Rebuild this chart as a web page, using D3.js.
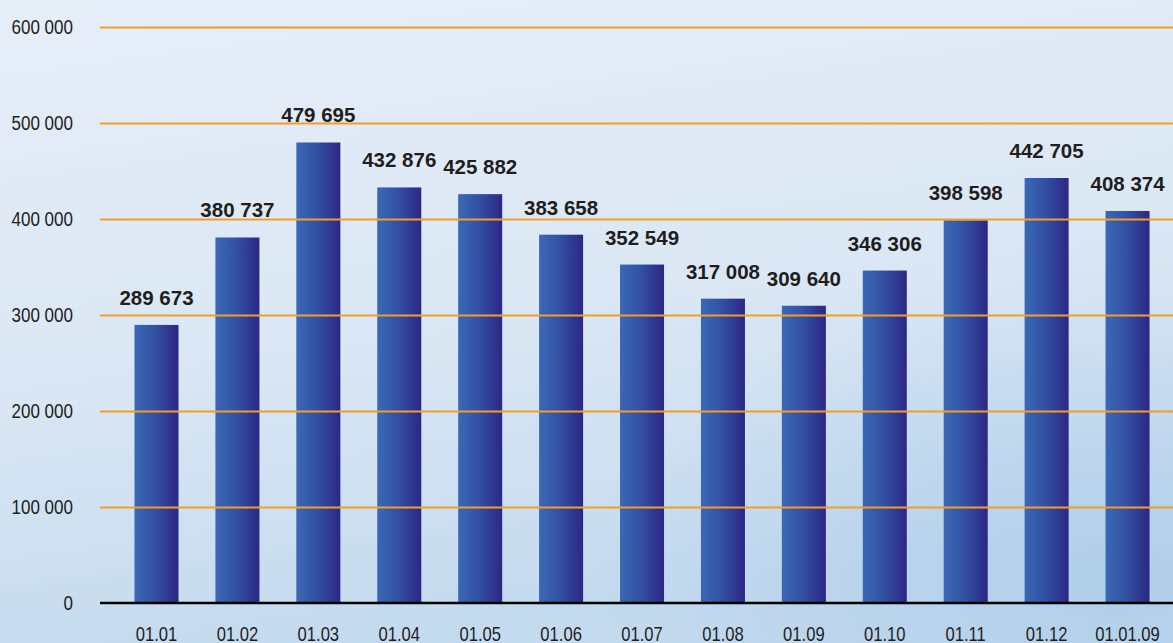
<!DOCTYPE html>
<html>
<head>
<meta charset="utf-8">
<script src="https://cdn.jsdelivr.net/npm/d3@7"></script>
<style>
  html, body { margin: 0; padding: 0; overflow: hidden; }
  svg { display: block; }
</style>
</head>
<body>
<svg id="chart" width="1173" height="643"></svg>
<script>
const categories = ["01.01", "01.02", "01.03", "01.04", "01.05", "01.06", "01.07", "01.08", "01.09", "01.10", "01.11", "01.12", "01.01.09"];
const values = [289673, 380737, 479695, 432876, 425882, 383658, 352549, 317008, 309640, 346306, 398598, 442705, 408374];
const yTicks = [0, 100000, 200000, 300000, 400000, 500000, 600000];

const W = 1173, H = 643;
const svg = d3.select("#chart");
const defs = svg.append("defs");

const bg = defs.append("linearGradient").attr("id", "bg").attr("x1", 0).attr("y1", 0).attr("x2", 0.25).attr("y2", 1);
bg.append("stop").attr("offset", "0%").attr("stop-color", "#e6eef8");
bg.append("stop").attr("offset", "55%").attr("stop-color", "#dbe7f4");
bg.append("stop").attr("offset", "100%").attr("stop-color", "#c4daee");

const bgR = defs.append("radialGradient").attr("id", "bgR").attr("cx", 0.95).attr("cy", 0.9).attr("r", 0.45);
bgR.append("stop").attr("offset", "0%").attr("stop-color", "#9fc4e6").attr("stop-opacity", 0.5);
bgR.append("stop").attr("offset", "100%").attr("stop-color", "#9fc4e6").attr("stop-opacity", 0);

const barG = defs.append("linearGradient").attr("id", "barG").attr("x1", 0).attr("y1", 0).attr("x2", 1).attr("y2", 0);
barG.append("stop").attr("offset", "0%").attr("stop-color", "#3b68b5");
barG.append("stop").attr("offset", "45%").attr("stop-color", "#3352a4");
barG.append("stop").attr("offset", "100%").attr("stop-color", "#2c2784");

svg.append("rect").attr("width", W).attr("height", H).attr("fill", "url(#bg)");
svg.append("rect").attr("width", W).attr("height", H).attr("fill", "url(#bgR)");

const step = 80.92;
const x = d3.scaleBand()
  .domain(categories)
  .range([156.5 - step / 2, 156.5 + (categories.length - 0.5) * step])
  .paddingInner(0.456)
  .paddingOuter(0.228);

const y = d3.scaleLinear().domain([0, 600000]).range([603, 27]);

const fmt = v => d3.format(",")(v).replace(/,/g, " ");
const narrow = "scale(0.83,1)";

// bars
svg.append("g").selectAll("rect")
  .data(values)
  .join("rect")
  .attr("x", (d, i) => x(categories[i]))
  .attr("y", d => y(d))
  .attr("width", x.bandwidth())
  .attr("height", d => y(0) - y(d))
  .attr("fill", "url(#barG)");

// gridlines over bars
const grid = d3.axisLeft(y).tickValues(yTicks.filter(d => d > 0)).tickSize(-(W - 100)).tickFormat("");
svg.append("g")
  .attr("transform", "translate(100,0)")
  .call(grid)
  .call(g => g.select(".domain").remove())
  .call(g => g.selectAll("line").attr("stroke", "#f29b30").attr("stroke-width", 1.8));

// axis baseline
svg.append("line")
  .attr("x1", 100).attr("x2", W)
  .attr("y1", y(0)).attr("y2", y(0))
  .attr("stroke", "#000").attr("stroke-width", 2.6);

// y tick labels
const yAxis = d3.axisLeft(y).tickValues(yTicks).tickSize(0).tickPadding(0).tickFormat(fmt);
svg.append("g")
  .attr("transform", "translate(73,0)")
  .call(yAxis)
  .call(g => g.select(".domain").remove())
  .call(g => g.selectAll("text")
    .attr("x", 0)
    .attr("transform", narrow)
    .attr("font-family", "'Liberation Sans', Arial, sans-serif")
    .attr("font-size", 20.5)
    .attr("fill", "#1e1e1e")
    .attr("dy", "0.3em"));

// x tick labels
const xAxis = d3.axisBottom(x).tickSize(0).tickPadding(0);
svg.append("g")
  .attr("transform", "translate(0,626)")
  .call(xAxis)
  .call(g => g.select(".domain").remove())
  .call(g => g.selectAll("text")
    .attr("transform", narrow)
    .attr("font-family", "'Liberation Sans', Arial, sans-serif")
    .attr("font-size", 20)
    .attr("fill", "#1e1e1e")
    .attr("dy", "0.75em"));

// value labels
svg.append("g").selectAll("text")
  .data(values)
  .join("text")
  .attr("x", (d, i) => x(categories[i]) + x.bandwidth() / 2)
  .attr("y", d => y(d) - 20)
  .attr("text-anchor", "middle")
  .attr("font-family", "'Liberation Sans', Arial, sans-serif")
  .attr("font-weight", "bold")
  .attr("font-size", 20.5)
  .attr("fill", "#1e1e1e")
  .text(fmt);
</script>
</body>
</html>
